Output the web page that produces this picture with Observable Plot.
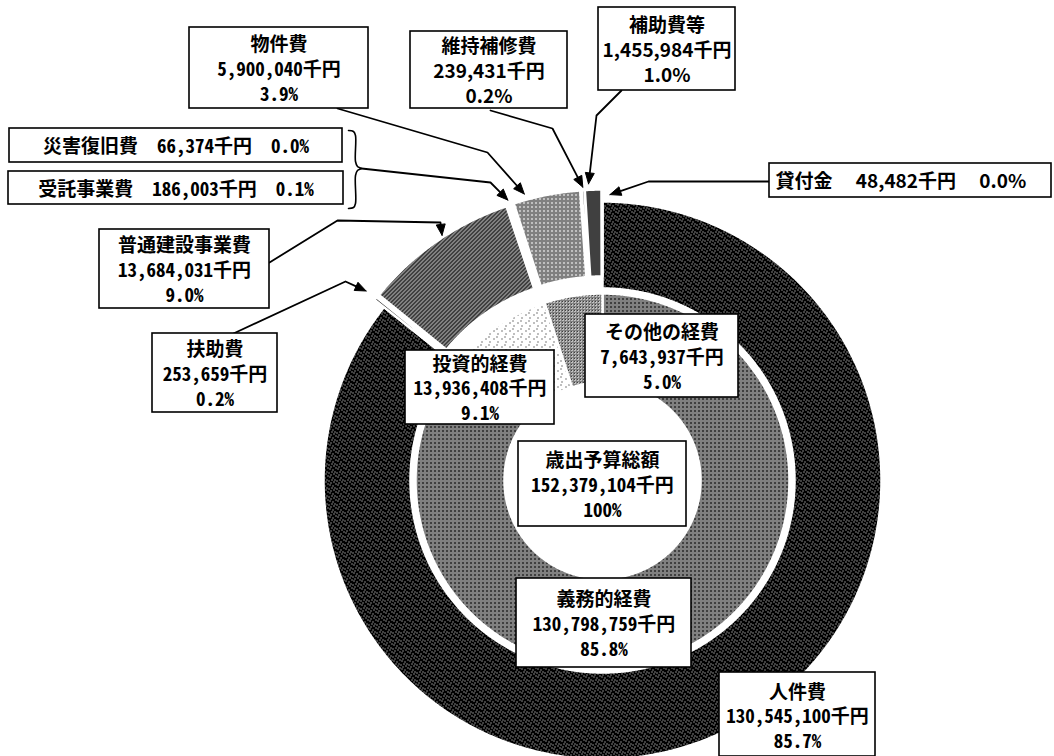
<!DOCTYPE html>
<html><head><meta charset="utf-8">
<script src="https://cdn.jsdelivr.net/npm/d3@7"></script>
<script src="https://cdn.jsdelivr.net/npm/@observablehq/plot@0.6"></script>
<style>
html,body{margin:0;padding:0;background:#fff;}
.hw{font-feature-settings:"hwid" 1;}
</style></head>
<body><div id="chart"></div>
<script>
// ---------------- data ----------------
const innerCategories = ["義務的経費", "投資的経費", "その他の経費"];
const innerValues = [130798759, 13936408, 7643937];
const outerCategories = ["人件費", "扶助費", "普通建設事業費", "災害復旧費", "受託事業費", "物件費", "維持補修費", "補助費等", "貸付金"];
const outerValues = [130545100, 253659, 13684031, 66374, 186003, 5900040, 239431, 1455984, 48482];
const totalTitle = "歳出予算総額";
const unit = "千円";

// ---------------- layout / style ----------------
const W = 1054, H = 756;
const CX = 602, CY = 480;
const R_HOLE = 98, R_IN = 187, R_OUT0 = 192, R_OUT = 279, EXPLODE = 12;

const fills = {
  "義務的経費": "url(#p-gimu)", "投資的経費": "url(#p-toushi)", "その他の経費": "url(#p-sonota)",
  "人件費": "url(#p-jinken)", "扶助費": "#000", "普通建設事業費": "url(#p-futsu)",
  "災害復旧費": "#000", "受託事業費": "#000", "物件費": "url(#p-bukken)",
  "維持補修費": "#000", "補助費等": "url(#p-hojo)", "貸付金": "#000"
};
const explodeSet = new Set(["扶助費", "普通建設事業費", "災害復旧費", "受託事業費", "物件費", "維持補修費", "補助費等", "貸付金"]);

const labelLayout = {
  "物件費": {box: [189, 27, 368, 108], mono: true},
  "災害復旧費": {box: [9, 128, 342, 162], mono: true, single: true},
  "受託事業費": {box: [8, 171, 343, 204], mono: true, single: true},
  "普通建設事業費": {box: [99, 229, 269, 308], mono: true},
  "扶助費": {box: [152, 333, 277, 412], mono: true},
  "維持補修費": {box: [410, 31, 567, 108], mono: false},
  "補助費等": {box: [598, 7, 735, 90], mono: false},
  "貸付金": {box: [769, 163, 1051, 197], mono: false, single: true, tx: 775, anchor: "start"},
  "その他の経費": {box: [585, 314, 738, 397], mono: true},
  "投資的経費": {box: [405, 350, 554, 424], mono: true},
  "義務的経費": {box: [516, 578, 691, 667], mono: true},
  "人件費": {box: [719, 672, 875, 756], mono: true, ty: 715},
  "__total": {box: [518, 441, 686, 526], mono: true}
};

// leader lines: start + bends (layout), tip derived from slice angle
const leaders = [
  {name: "物件費", t: 0.2, r: 297, path: [[337, 108], [487, 152]]},
  {name: "災害復旧費", t: 0.0, r: 296, path: [[361, 168], [490, 182]]},
  {name: "普通建設事業費", t: 0.55, r: 293, path: [[269, 262], [337, 220], [440, 222]]},
  {name: "扶助費", t: 0.5, r: 303, path: [[233, 333], [345, 281]]},
  {name: "維持補修費", t: 0.5, r: 294, path: [[490, 110], [552, 128]]},
  {name: "補助費等", t: 0.25, r: 297, path: [[621, 90], [596, 115]]},
  {name: "貸付金", t: 1.0, da: 1.5, r: 286, path: [[769, 181], [648, 181]]}
];
const brace = [[348,130],[353,131],[355,135],[355,161],[357,166],[361,168],[357,170],[355,175],[355,203],[353,207],[348,208]];

// ---------------- geometry ----------------
const fmt = d3.format(",");
const total = d3.sum(innerValues);
const pct = v => (v / total * 100).toFixed(1) + "%";
const pie = d3.pie().sort(null).value(d => d.value);
const innerArcs = pie(innerCategories.map((name, i) => ({name, value: innerValues[i]})));
const outerArcs = pie(outerCategories.map((name, i) => ({name, value: outerValues[i]})));
const arcByName = new Map([...innerArcs, ...outerArcs].map(a => [a.data.name, a]));

const polar = (r, a, ox = 0, oy = 0) => [CX + ox + r * Math.sin(a), CY + oy - r * Math.cos(a)];
function slicePoints(arc, r0, r1, off) {
  const mid = (arc.startAngle + arc.endAngle) / 2;
  const ox = off * Math.sin(mid), oy = -off * Math.cos(mid);
  const n = Math.max(2, Math.ceil((arc.endAngle - arc.startAngle) / 0.005));
  const pts = [];
  for (let i = 0; i <= n; i++) pts.push(polar(r1, arc.startAngle + (arc.endAngle - arc.startAngle) * i / n, ox, oy));
  for (let i = n; i >= 0; i--) pts.push(polar(r0, arc.startAngle + (arc.endAngle - arc.startAngle) * i / n, ox, oy));
  pts.push(pts[0]);
  return pts.map(([x, y]) => ({name: arc.data.name, x, y, fill: fills[arc.data.name]}));
}
const outerRows = outerArcs.flatMap(a => slicePoints(a, R_OUT0, R_OUT, explodeSet.has(a.data.name) ? EXPLODE : 0));
const innerRows = innerArcs.flatMap(a => slicePoints(a, R_HOLE, R_IN, 0));

// leaders + arrowheads
const leaderRows = [], arrowRows = [];
for (const L of leaders) {
  const arc = arcByName.get(L.name);
  const ang = arc.startAngle + (arc.endAngle - arc.startAngle) * L.t + (L.da || 0) * Math.PI / 180;
  const tip = polar(L.r, ang);
  const last = L.path[L.path.length - 1];
  const dx = tip[0] - last[0], dy = tip[1] - last[1], len = Math.hypot(dx, dy);
  const ux = dx / len, uy = dy / len;
  const base = [tip[0] - ux * 11, tip[1] - uy * 11];
  for (const p of [...L.path, base]) leaderRows.push({name: L.name, x: p[0], y: p[1]});
  const tri = [tip, [base[0] - uy * 4.5, base[1] + ux * 4.5], [base[0] + uy * 4.5, base[1] - ux * 4.5], tip];
  for (const p of tri) arrowRows.push({name: L.name, x: p[0], y: p[1]});
}

// labels
const labelRows = [];
for (const [name, value] of [...outerCategories.map((c, i) => [c, outerValues[i]]), ...innerCategories.map((c, i) => [c, innerValues[i]])]) {
  const L = labelLayout[name];
  const text = L.single
    ? `${name}　 ${fmt(value)}${unit}　 ${pct(value)}`
    : `${name}\n${fmt(value)}${unit}\n${pct(value)}`;
  labelRows.push({name, text, L});
}
labelRows.push({name: "__total", text: `${totalTitle}\n${fmt(total)}${unit}\n100%`, L: labelLayout["__total"]});
const boxRows = labelRows.map(d => ({x1: d.L.box[0], y1: d.L.box[1], x2: d.L.box[2], y2: d.L.box[3]}));
const textRows = labelRows.map(d => ({
  text: d.text, mono: d.L.mono, anchor: d.L.anchor || "middle",
  x: d.L.tx ?? (d.L.box[0] + d.L.box[2]) / 2,
  y: d.L.ty ?? (d.L.box[1] + d.L.box[3]) / 2
}));

// patterns (texture of the halftone print)
const patternSpecs = [
  ["p-jinken", "#000", "#fff", ["10000000","00000100","00100000","00000001","01000000","00001000","00000000","00010010"]],
  ["p-futsu", "#000", "#fff", ["1010","0100","1001","0010"]],
  ["p-bukken", "#000", "#fff", ["1010","0101","1011","0101"]],
  ["p-hojo", "#000", "#fff", ["10","00"]],
  ["p-gimu", "#000", "#fff", ["1010","0101","1000","0101"]],
  ["p-toushi", "#fff", "#000", ["10000000","00000000","00000100","00000000","00000000","01000000","00000000","00000000"]],
  ["p-sonota", "#fff", "#000", ["110","100","001"]]
];
function defsMark() {
  const ns = "http://www.w3.org/2000/svg";
  const defs = document.createElementNS(ns, "defs");
  for (const [id, bg, fg, rows] of patternSpecs) {
    const h = rows.length, w = rows[0].length;
    const p = document.createElementNS(ns, "pattern");
    p.setAttribute("id", id); p.setAttribute("patternUnits", "userSpaceOnUse");
    p.setAttribute("width", w); p.setAttribute("height", h);
    const mk = (x, y, ww, hh, f) => {
      const r = document.createElementNS(ns, "rect");
      r.setAttribute("x", x); r.setAttribute("y", y); r.setAttribute("width", ww); r.setAttribute("height", hh);
      r.setAttribute("fill", f); r.setAttribute("shape-rendering", "crispEdges");
      p.appendChild(r);
    };
    mk(0, 0, w, h, bg);
    rows.forEach((row, i) => [...row].forEach((c, j) => { if (c === "1") mk(j, i, 1, 1, fg); }));
    defs.appendChild(p);
  }
  return defs;
}

const jpMono = '"Noto Sans Mono CJK JP", "Noto Sans CJK JP", sans-serif';
const jp = '"Noto Sans CJK JP", sans-serif';
const textOpts = (mono, anchor) => ({
  x: "x", y: "y", text: "text", textAnchor: anchor, fontSize: 19, lineHeight: 1.3,
  fontFamily: mono ? jpMono : jp, fontWeight: "bold", fill: "#000", className: mono ? "hw" : undefined
});

const chart = Plot.plot({
  width: W, height: H, margin: 0,
  x: {type: "linear", domain: [0, W], range: [0, W], axis: null},
  y: {type: "linear", domain: [0, H], range: [0, H], axis: null},
  color: {type: "identity"},
  style: {background: "#fff"},
  marks: [
    defsMark,
    Plot.line(outerRows, {x: "x", y: "y", z: "name", fill: "fill", stroke: "#fff", strokeWidth: 2.5, curve: "linear"}),
    Plot.line(innerRows, {x: "x", y: "y", z: "name", fill: "fill", stroke: "#fff", strokeWidth: 2.5, curve: "linear"}),
    Plot.line(brace.map(([x, y]) => ({x, y})), {x: "x", y: "y", stroke: "#000", strokeWidth: 1.6, curve: "catmull-rom"}),
    Plot.line(leaderRows, {x: "x", y: "y", z: "name", stroke: "#000", strokeWidth: 1.8, curve: "linear"}),
    Plot.line(arrowRows, {x: "x", y: "y", z: "name", fill: "#000", stroke: "#000", strokeWidth: 1}),
    Plot.rect(boxRows, {x1: "x1", y1: "y1", x2: "x2", y2: "y2", fill: "#fff", stroke: "#000", strokeWidth: 1.6}),
    Plot.text(textRows.filter(d => d.mono && d.anchor === "middle"), textOpts(true, "middle")),
    Plot.text(textRows.filter(d => !d.mono && d.anchor === "middle"), textOpts(false, "middle")),
    Plot.text(textRows.filter(d => d.anchor === "start"), textOpts(false, "start"))
  ]
});
document.getElementById("chart").appendChild(chart);
</script>
</body></html>
